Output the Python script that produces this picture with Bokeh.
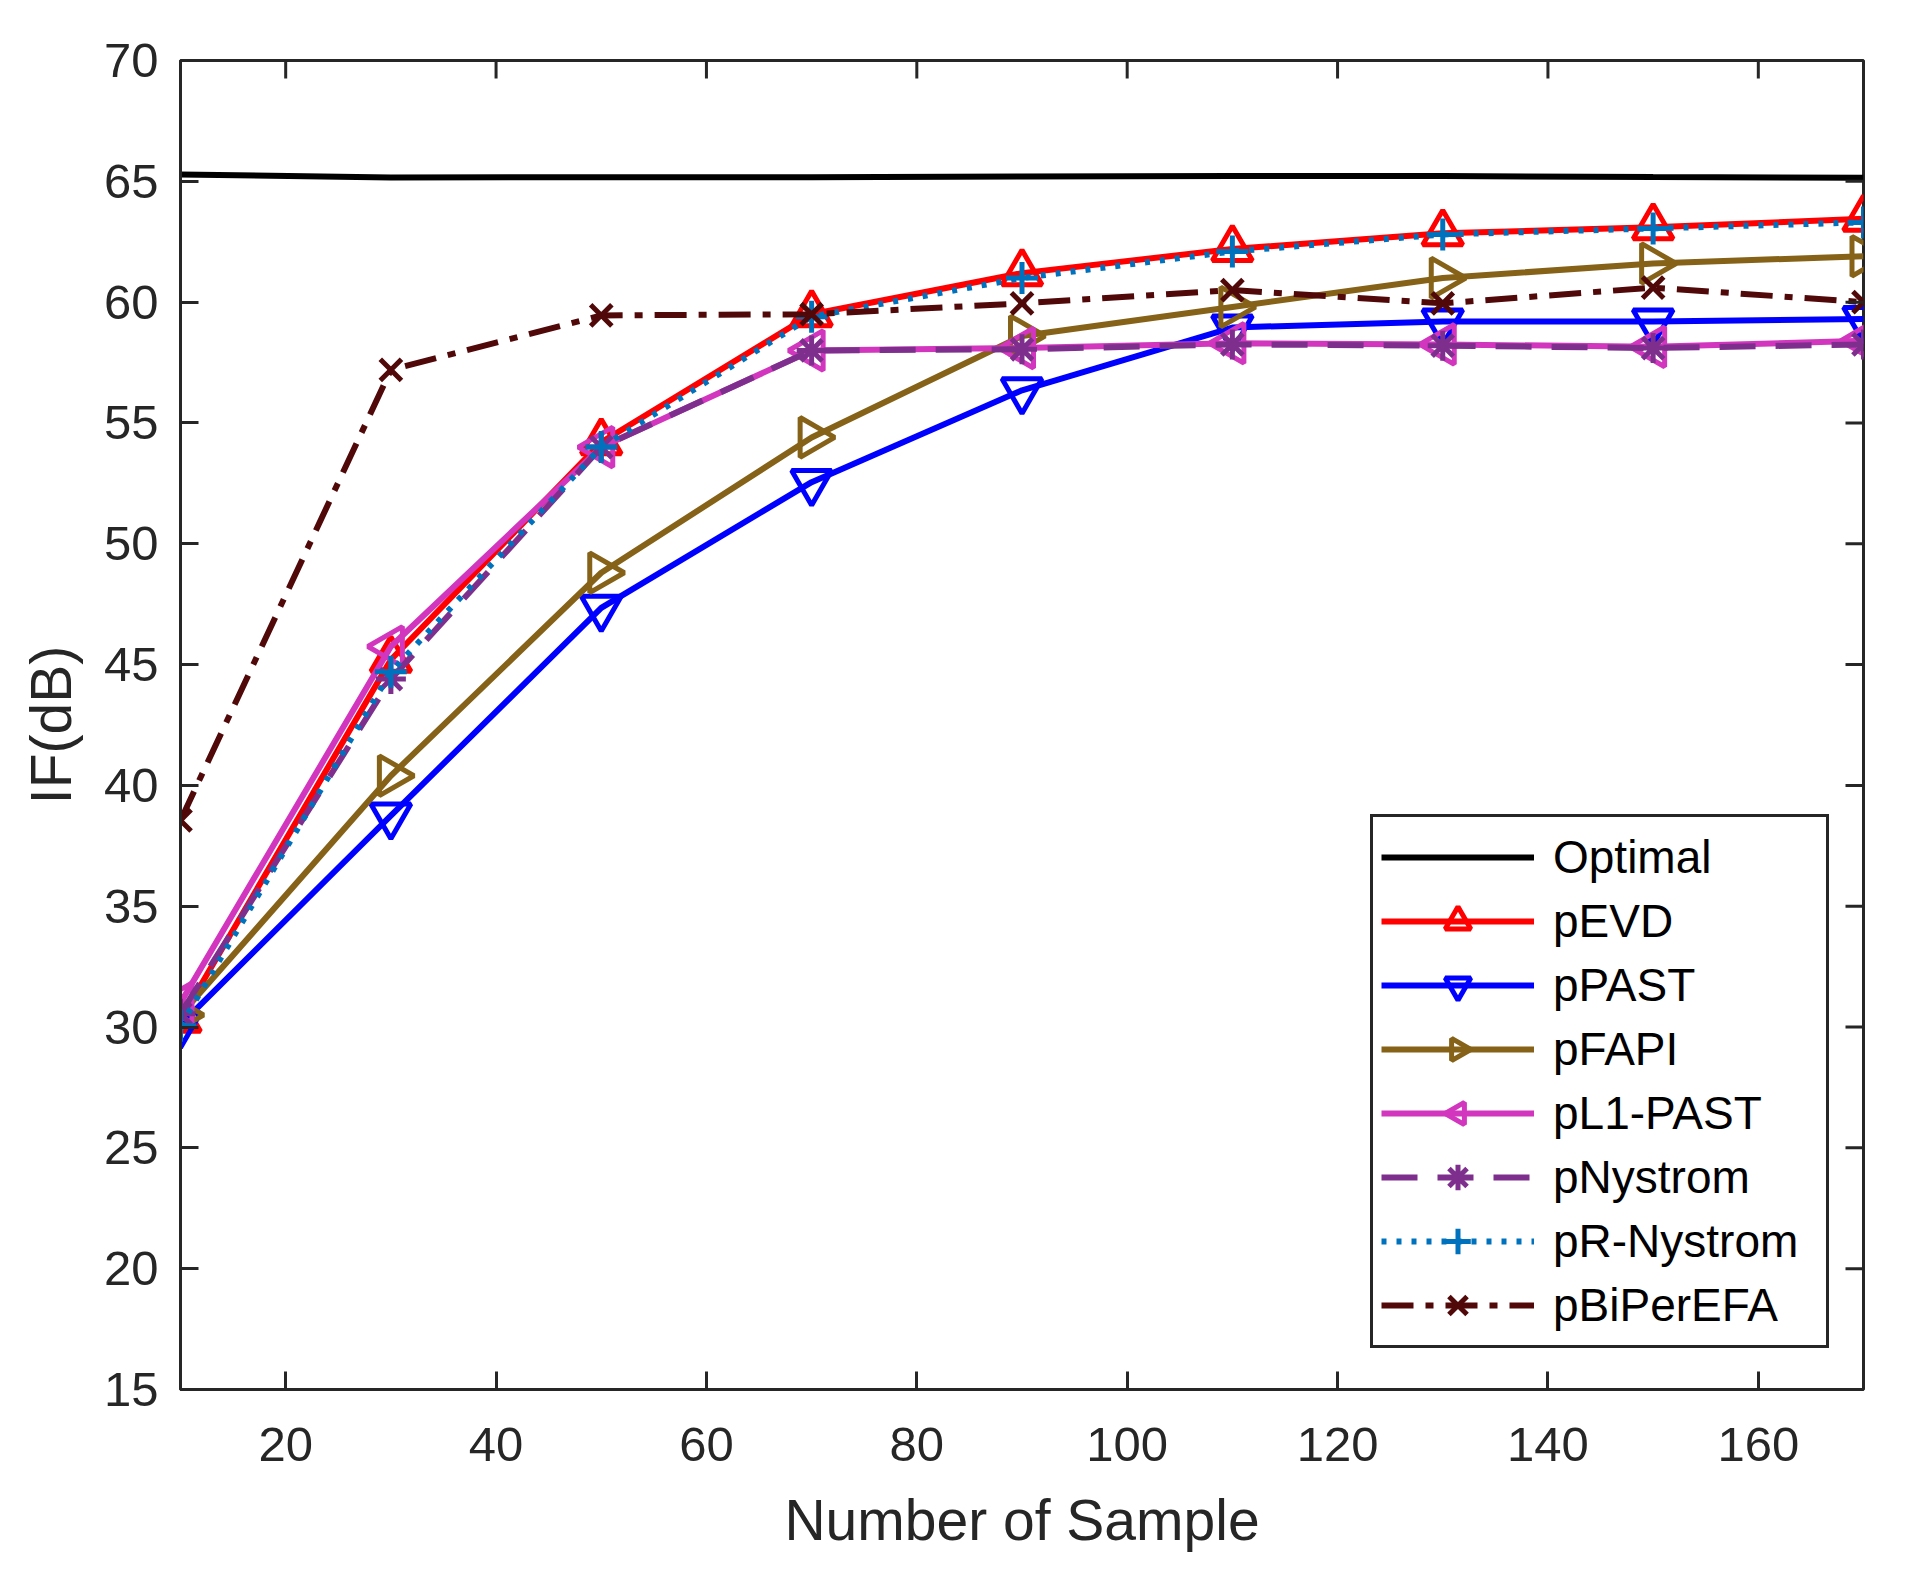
import math
from bokeh.plotting import figure
from bokeh.models import FixedTicker, Range1d
from bokeh.embed import file_html
from bokeh.resources import INLINE

# ---- data ----
samples = [10, 30, 50, 70, 90, 110, 130, 150, 170]
optimal = [65.28, 65.16, 65.17, 65.17, 65.2, 65.22, 65.22, 65.18, 65.15]
pEVD = [30.3, 45.2, 54.2, 59.5, 61.2, 62.2, 62.85, 63.1, 63.45]
pPAST = [30.1, 38.75, 47.35, 52.55, 56.35, 58.95, 59.2, 59.2, 59.3]
pFAPI = [30.5, 40.4, 48.8, 54.4, 58.6, 59.8, 61.0, 61.6, 61.9]
pL1_PAST = [31.0, 45.75, 54.0, 58.0, 58.1, 58.3, 58.25, 58.15, 58.4]
pNystrom = [30.55, 44.4, 54.0, 58.0, 58.05, 58.25, 58.2, 58.1, 58.25]
pR_Nystrom = [30.05, 44.7, 54.0, 59.4, 61.0, 62.1, 62.8, 63.05, 63.3]
pBiPerEFA = [38.55, 57.2, 59.45, 59.5, 59.95, 60.5, 59.95, 60.6, 60.0]

x_ticks = [20, 40, 60, 80, 100, 120, 140, 160]
y_ticks = [15, 20, 25, 30, 35, 40, 45, 50, 55, 60, 65, 70]

series_names = ["Optimal", "pEVD", "pPAST", "pFAPI", "pL1-PAST",
                "pNystrom", "pR-Nystrom", "pBiPerEFA"]
series_values = [optimal, pEVD, pPAST, pFAPI, pL1_PAST,
                 pNystrom, pR_Nystrom, pBiPerEFA]

# ---- styles ----
styles = [
    dict(color="#000000", dash="solid", marker=None),
    dict(color="#FF0000", dash="solid", marker="triangle", size=40),
    dict(color="#0000FF", dash="solid", marker="inverted_triangle", size=40),
    dict(color="#856217", dash="solid", marker="ngon", angle=-math.pi / 2),
    dict(color="#D336BE", dash="solid", marker="ngon", angle=math.pi / 2),
    dict(color="#7E2F8E", dash="36 20", marker="asterisk", size=30),
    dict(color="#0072BD", dash="5 10", marker="cross", size=32),
    dict(color="#500808", dash="32 12 8 12", marker="x", size=30),
]

FONT = "Liberation Sans"
AX = "#262626"

p = figure(width=1910, height=1572, output_backend="svg", toolbar_location=None,
           x_range=Range1d(10, 170), y_range=Range1d(15, 70),
           min_border_left=180, min_border_right=47,
           min_border_top=60, min_border_bottom=183)
p.background_fill_color = "white"
p.border_fill_color = "white"
p.xgrid.visible = False
p.ygrid.visible = False
p.outline_line_color = AX
p.outline_line_width = 3
p.outline_line_alpha = 1.0

for name, vals, st in zip(series_names, series_values, styles):
    p.line(samples, vals, line_color=st["color"], line_width=6,
           line_dash=st["dash"], legend_label=name)
    mk = st["marker"]
    if mk is None:
        continue
    if mk == "ngon":
        done = False
        try:
            p.ngon(samples, vals, radius=23, radius_units="screen", n=3,
                   angle=st["angle"], line_color=st["color"], line_width=5,
                   fill_color=None, legend_label=name)
            done = True
        except Exception:
            done = False
        if not done:
            p.scatter(samples, vals, marker="triangle", size=40,
                      angle=st["angle"], line_color=st["color"], line_width=5,
                      fill_color=None, legend_label=name)
    else:
        p.scatter(samples, vals, marker=mk, size=st["size"],
                  line_color=st["color"], line_width=5,
                  fill_color=None, legend_label=name)

# inward ticks on the top and right sides of the box
p.ray(x=x_ticks, y=[p.y_range.end] * len(x_ticks), length=18,
      length_units="screen", angle=-math.pi / 2, line_color=AX, line_width=3)
p.ray(x=[p.x_range.end] * len(y_ticks), y=y_ticks, length=18,
      length_units="screen", angle=math.pi, line_color=AX, line_width=3)

def style_axis(ax):
    ax.axis_line_color = AX
    ax.axis_line_width = 3
    ax.major_tick_line_color = AX
    ax.major_tick_line_width = 3
    ax.major_tick_in = 18
    ax.major_tick_out = 0
    ax.minor_tick_line_color = None
    ax.major_label_text_font = FONT
    ax.major_label_text_color = AX
    ax.major_label_text_font_size = "49px"
    ax.axis_label_text_font = FONT
    ax.axis_label_text_font_style = "normal"
    ax.axis_label_text_color = AX
    ax.axis_label_text_font_size = "57px"

xb = p.xaxis[0]
yl = p.yaxis[0]
xb.ticker = FixedTicker(ticks=x_ticks)
yl.ticker = FixedTicker(ticks=y_ticks)
style_axis(xb)
style_axis(yl)
xb.axis_label = "Number of Sample"
yl.axis_label = "IF(dB)"
xb.major_label_standoff = 38
yl.major_label_standoff = 22
xb.axis_label_standoff = 24
yl.axis_label_standoff = 18

lg = p.legend[0]
lg.location = (1190, 41)
lg.glyph_width = 153
lg.glyph_height = 64
lg.label_height = 64
lg.label_width = 265
lg.spacing = 0
lg.padding = 8
lg.margin = 0
lg.label_standoff = 19
lg.label_text_font = FONT
lg.label_text_font_size = "46px"
lg.label_text_color = "#000000"
lg.border_line_color = AX
lg.border_line_width = 3
lg.border_line_alpha = 1.0
lg.background_fill_color = "white"
lg.background_fill_alpha = 1.0

open("out.html", "w").write(file_html(p, INLINE))
